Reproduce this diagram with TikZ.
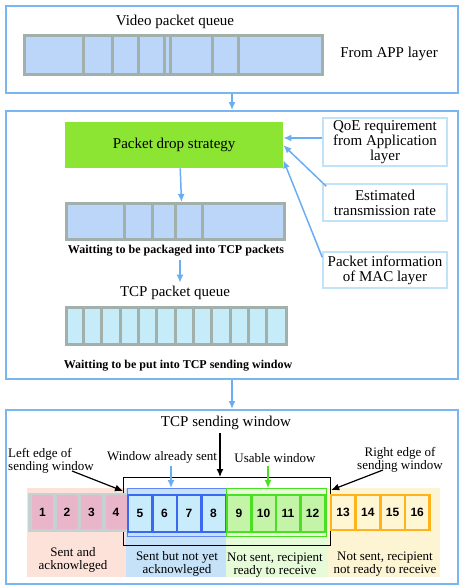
\documentclass[tikz,border=0pt]{standalone}
\usepackage{fontspec}
\setmainfont{Liberation Serif}
\newfontfamily\cellfont{Liberation Sans}
\usetikzlibrary{arrows,arrows.meta}
\definecolor{frameblue}{HTML}{7AB6EF}
\definecolor{arrowblue}{HTML}{6AAEF2}
\definecolor{qgray}{HTML}{A2B0AC}
\definecolor{qblue}{HTML}{BCD6FA}
\definecolor{qcyan}{HTML}{C6ECFA}
\definecolor{dropgreen}{HTML}{8BE532}
\definecolor{infoblue}{HTML}{C2E2F8}
\definecolor{pinkbg}{HTML}{FDE2DA}
\definecolor{bluebg}{HTML}{C6E2F8}
\definecolor{greenbg}{HTML}{E6FCD8}
\definecolor{yellowbg}{HTML}{FDF4D4}
\definecolor{pinkcell}{HTML}{E8B6C8}
\definecolor{graycell}{HTML}{C6D2D2}
\definecolor{blueline}{HTML}{3B68F0}
\definecolor{cyancell}{HTML}{C8ECFB}
\definecolor{greenline}{HTML}{48E020}
\definecolor{greencell}{HTML}{C4F4A8}
\definecolor{orangeline}{HTML}{FFB21A}
\definecolor{orangecell}{HTML}{FFF6D4}
\begin{document}
\begin{tikzpicture}[x=1pt,y=-1pt,
    frame/.style={draw=frameblue,line width=2pt,anchor=north west,inner sep=0pt},
    arr/.style={-{Latex[length=8pt,width=7pt]},draw=arrowblue,line width=1.5pt},
    blackarr/.style={-{Latex[length=8pt,width=7pt]},draw=black,line width=1.2pt},
    queue/.style={draw=qgray,line width=3pt,anchor=north west,inner sep=0pt},
    qline/.style={draw=qgray,line width=3pt},
    info/.style={draw=infoblue,line width=1.5pt,align=center,font=\fontsize{15}{15}\selectfont,inner sep=0pt},
    big/.style={font=\fontsize{15}{15}\selectfont},
    small/.style={font=\bfseries\fontsize{12}{12}\selectfont},
    lbl/.style={font=\fontsize{13}{13}\selectfont,align=center},
    num/.style={font=\cellfont\bfseries\fontsize{12}{12}\selectfont,inner sep=0pt},
    ackcell/.style={num,fill=pinkcell,minimum width=21,minimum height=34},
    sentcell/.style={num,draw=blueline,line width=2.5pt,fill=cyancell,minimum width=24.5,minimum height=37},
    usecell/.style={num,draw=greenline,line width=2.5pt,fill=greencell,minimum width=24.5,minimum height=37},
    waitcell/.style={num,draw=orangeline,line width=2.5pt,fill=orangecell,minimum width=24.5,minimum height=35}]
  \useasboundingbox (0,0) rectangle (463,587);
  % APP layer
  \node[frame,minimum width=452,minimum height=87] (appframe) at (5,5) {};
  \node[big] (videolbl) at (175,22) {Video packet queue};
  \node[queue,fill=qblue,minimum width=298,minimum height=39] (videoq) at (23,34) {};
  \foreach \x in {83,112,138,164,170,212,238}
    \draw[qline] (\x,34) -- (\x,73);
  \node[big] (applbl) at (389,54) {From APP layer};
  % TCP layer
  \node[frame,minimum width=452,minimum height=268] (tcpframe) at (5,110) {};
  \draw[arr] (appframe.south) -- (tcpframe.north);
  \node[fill=dropgreen,big,minimum width=218,minimum height=46,anchor=north west] (drop) at (65,122) {Packet drop strategy};
  \node[info,minimum width=124,minimum height=48] (qoe) at (385,142) {QoE requirement\\from Application\\layer};
  \node[info,minimum width=124,minimum height=37] (rate) at (385,202.5) {Estimated\\transmission rate};
  \node[info,minimum width=124,minimum height=36] (pinfo) at (385,270) {Packet information\\of MAC layer};
  \draw[arr] ([yshift=4pt]qoe.west) -- ([yshift=4pt]qoe.west -| drop.east);
  \draw[arr] ([xshift=4pt,yshift=-3pt]rate.north west) -- (drop.east);
  \draw[arr] ([yshift=-6pt]pinfo.north west) -- ([yshift=-15pt]drop.east);
  \node[queue,fill=qblue,minimum width=218,minimum height=36] (pkgq) at (65,202) {};
  \foreach \x in {124,152,175,202}
    \draw[qline] (\x,202) -- (\x,238);
  \draw[arr] ([xshift=6pt]drop.south) -- ([xshift=6pt]pkgq.north);
  \node[small] (pkglbl) at (176,251) {Waitting to be packaged into TCP packets};
  \node[big] (tcplbl) at (175,293) {TCP packet queue};
  \draw[arr] ([xshift=4pt]pkglbl.south) -- ([xshift=4pt]pkglbl.south |- tcplbl.north);
  \node[queue,fill=qcyan,minimum width=220,minimum height=37] (tcpq) at (65,306) {};
  \foreach \k in {1,...,11}
    \draw[qline] ({65+\k*220/12},306) -- ++(0,37);
  \node[small] (putlbl) at (178,366) {Waitting to be put into TCP sending window};
  % sending window
  \node[frame,minimum width=452,minimum height=174] (winframe) at (5,409) {};
  \draw[arr] (tcpframe.south) -- (winframe.north);
  \fill[pinkbg] (27,488) rectangle (126,577);
  \fill[bluebg] (126,488) rectangle (226,577);
  \fill[greenbg] (226,488) rectangle (328,577);
  \fill[yellowbg] (328,488) rectangle (440,577);
  \node[draw,line width=1.2pt,anchor=north west,inner sep=0pt,minimum width=207,minimum height=68] (sendwin) at (123,477) {};
  \fill[graycell] (28,493) rectangle (126,532);
  \node[draw=blueline!80,line width=1pt,anchor=north west,inner sep=0pt,minimum width=99,minimum height=48] (sentwin) at (127,488) {};
  \node[draw=greenline,line width=1pt,anchor=north west,inner sep=0pt,minimum width=100,minimum height=48] (usewin) at (226,488) {};
  \foreach \i in {1,...,4}
    \node[ackcell] (c\i) at ({18+\i*24.5},512) {\i};
  \foreach \i in {5,...,8}
    \node[sentcell] (c\i) at ({17.5+\i*24.5},513.5) {\i};
  \foreach \i in {9,...,12}
    \node[usecell] (c\i) at ({18.5+\i*24.5},513.5) {\i};
  \foreach \i in {13,...,16}
    \node[waitcell] (c\i) at ({22+\i*24.7},512.5) {\i};
  \node[big] (winlbl) at (226,423) {TCP sending window};
  \draw[blackarr] ([xshift=-6pt]winlbl.south) -- ([xshift=-6pt]winlbl.south |- sendwin.north);
  \node[lbl,align=left,anchor=west,inner sep=2pt] (leftlbl) at (6,461) {Left edge of\\sending window};
  \node[lbl] (rightlbl) at (400,460) {Right edge of\\sending window};
  \coordinate (leftfrom) at (72,471);
  \coordinate (rightfrom) at (383,470);
  \draw[blackarr] (leftfrom) -- ([yshift=-14pt]sendwin.north west);
  \draw[blackarr] (rightfrom) -- ([yshift=-13pt]sendwin.north east);
  \node[lbl] (sentlbl) at (162,457) {Window already sent};
  \node[lbl] (uselbl) at (275,458) {Usable window};
  \draw[arr] ([xshift=9pt]sentlbl.south) -- ([xshift=9pt]sentlbl.south |- sentwin.north);
  \draw[-{Latex[length=8pt,width=7pt]},draw=greenline,line width=1.2pt] ([xshift=-7pt]uselbl.south) -- ([xshift=-7pt]uselbl.south |- usewin.north);
  \node[lbl] (acklbl) at (73,560) {Sent and\\acknowleged};
  \node[lbl] (unacklbl) at (177,564) {Sent but not yet\\acknowleged};
  \node[lbl] (readylbl) at (275,565) {Not sent, recipient\\ready to receive};
  \node[lbl] (notreadylbl) at (385,564) {Not sent, recipient\\not ready to receive};
\end{tikzpicture}
\end{document}
